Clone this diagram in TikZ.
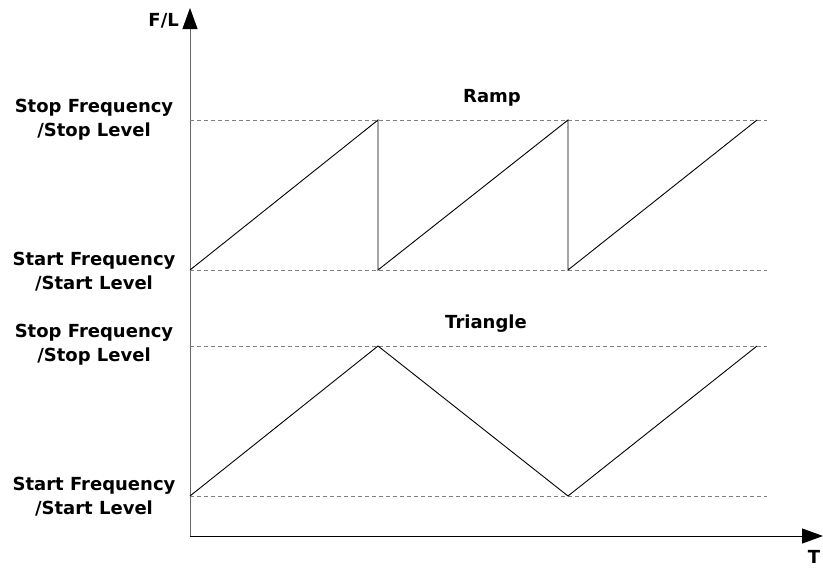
\documentclass[tikz,border=0pt]{standalone}
\usepackage{fontspec}
\setmainfont{DejaVu Sans}
\usetikzlibrary{arrows.meta}
\begin{document}
\begin{tikzpicture}[x=1pt,y=-1pt,
  lbl/.style={font=\bfseries\fontsize{18}{24}\selectfont, align=center, inner sep=0pt},
  guide/.style={draw=gray, dash pattern=on 4pt off 3pt, line width=0.8pt},
  wave/.style={draw=black, line width=0.9pt},
  axis/.style={line width=1pt, -{Triangle[length=21pt,width=15pt,color=black,fill=black]}}]
\useasboundingbox (0,0) rectangle (823,568);
% axes
\coordinate (O) at (190,536);
\coordinate (Ytip) at (190,8);
\coordinate (Xtip) at (823,536);
\draw[axis, draw=gray!80!black] (O) -- (Ytip);
\draw[axis, draw=black] (O) -- (Xtip);
\node[lbl, anchor=east] (fl) at (179,21) {F/L};
\node[lbl] (t) at (814,557) {T};
% guides
\coordinate (s1a) at (190,120); \coordinate (s1b) at (767,120);
\coordinate (b1a) at (190,270); \coordinate (b1b) at (767,270);
\coordinate (s2a) at (190,346); \coordinate (s2b) at (767,346);
\coordinate (b2a) at (190,496); \coordinate (b2b) at (767,496);
\draw[guide] (s1a) -- (s1b);
\draw[guide] (b1a) -- (b1b);
\draw[guide] (s2a) -- (s2b);
\draw[guide] (b2a) -- (b2b);
% ramp
\coordinate (r0) at (190,270);
\coordinate (r1) at (378,120);
\coordinate (r2) at (378,270);
\coordinate (r3) at (568,120);
\coordinate (r4) at (568,270);
\coordinate (r5) at (757,120);
\draw[wave] (r0) -- (r1) -- (r2) -- (r3) -- (r4) -- (r5);
% triangle
\coordinate (t0) at (190,496);
\coordinate (t1) at (378,346);
\coordinate (t2) at (568,496);
\coordinate (t3) at (757,346);
\draw[wave] (t0) -- (t1) -- (t2) -- (t3);
% titles
\node[lbl] (ramp) at (492,98) {Ramp};
\node[lbl] (tri) at (486,324) {Triangle};
% left labels
\node[lbl] (l1) at (94,120) {Stop Frequency\\/Stop Level};
\node[lbl] (l2) at (94,272) {Start Frequency\\/Start Level};
\node[lbl] (l3) at (94,345) {Stop Frequency\\/Stop Level};
\node[lbl] (l4) at (94,497) {Start Frequency\\/Start Level};
\end{tikzpicture}
\end{document}
